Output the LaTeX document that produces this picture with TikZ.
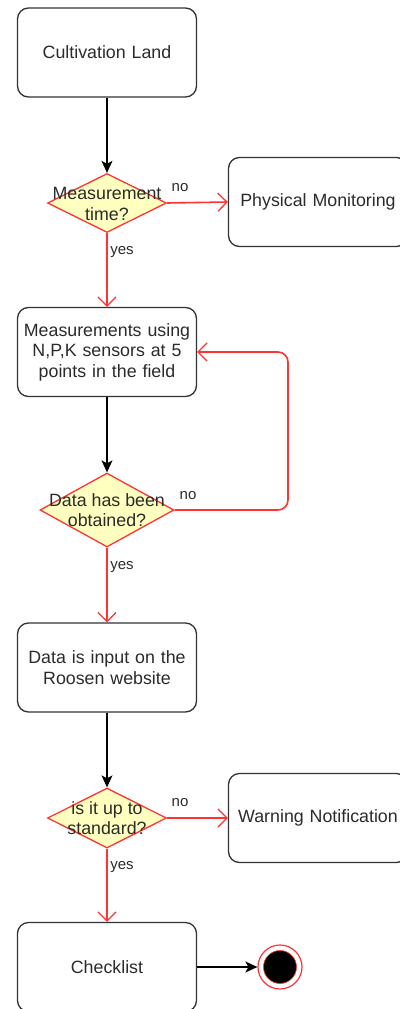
\documentclass[tikz,border=0pt]{standalone}
\usepackage{fontspec}
\setmainfont{Liberation Sans}
\usetikzlibrary{arrows.meta,shapes.geometric}
\definecolor{txt}{HTML}{2B2B2B}
\definecolor{edge}{HTML}{333333}
\definecolor{redc}{HTML}{FF3333}
\definecolor{yel}{HTML}{FFFFC0}
\tikzset{
  every node/.style={font=\fontsize{17.8}{20.5}\selectfont, text=txt},
  statebox/.style={draw=edge, line width=1.3pt, rounded corners=11pt, fill=white,
    minimum width=179pt, minimum height=89pt, align=center, inner sep=0pt, text width=175pt},
  decision/.style={draw=redc, line width=1.3pt, fill=yel, shape=diamond, inner sep=0pt},
  dtext/.style={align=center, inner sep=0pt},
  lbl/.style={font=\fontsize{15}{17}\selectfont, text=txt, inner sep=0pt},
  blackarr/.style={draw=black, line width=1.3pt, -{Stealth[length=12pt,width=11pt,inset=3pt]}},
  redarr/.style={draw=redc, line width=1.6pt, -{Straight Barb[length=9pt,width=18pt,line width=1.3pt]}},
}
\begin{document}
\begin{tikzpicture}[x=1pt,y=-1pt]
\useasboundingbox (0,0) rectangle (399,1009);
% boxes
\node[statebox] (cl) at (107,52.5) {Cultivation Land};
\node[statebox] (pm) at (318,202) {Physical Monitoring};
\node[statebox] (ms) at (107,352) {Measurements using\\N,P,K sensors at 5\\points in the field};
\node[statebox] (di) at (107,667.5) {Data is input on the\\Roosen website};
\node[statebox] (wn) at (318,818) {Warning Notification};
\node[statebox] (ck) at (107,967) {Checklist};
% decisions
\node[decision, minimum width=119pt, minimum height=59pt] (d1) at (107,203) {};
\node[dtext] (d1t) at (107,204) {Measurement\\time?};
\node[decision, minimum width=134pt, minimum height=74pt] (d2) at (107,510) {};
\node[dtext] (d2t) at (107,510) {Data has been\\obtained?};
\node[decision, minimum width=119pt, minimum height=60pt] (d3) at (107,818) {};
\node[dtext] (d3t) at (107,818) {is it up to\\standard?};
% end state
\node[circle, draw=redc, line width=1.2pt, fill=white, minimum size=44pt, inner sep=0pt] (end) at (280,967) {};
\node[circle, draw=redc, line width=0.6pt, fill=black, minimum size=33pt, inner sep=0pt] (endin) at (280,967) {};
% black connectors
\draw[blackarr] (cl.south) -- (d1.north);
\draw[blackarr] (ms.south) -- (d2.north);
\draw[blackarr] (di.south) -- (d3.north);
\draw[blackarr] (ck.east) -- (end.west);
% red connectors
\draw[redarr] (d1.east) -- (pm.west);
\draw[redarr] (d1.south) -- (ms.north);
\draw[redarr] (d2.south) -- (di.north);
\draw[redarr] (d3.east) -- (wn.west);
\draw[redarr] (d3.south) -- (ck.north);
\coordinate (lp1) at (288,510);
\coordinate (lp2) at (288,352);
\draw[redarr, rounded corners=10pt] (d2.east) -- (lp1) -- (lp2) -- (ms.east);
% labels
\node[lbl] (n1) at (180,188) {no};
\node[lbl] (y1) at (122,252) {yes};
\node[lbl] (n2) at (188,496) {no};
\node[lbl] (y2) at (122,567) {yes};
\node[lbl] (n3) at (180,803) {no};
\node[lbl] (y3) at (122,867) {yes};
\end{tikzpicture}
\end{document}
